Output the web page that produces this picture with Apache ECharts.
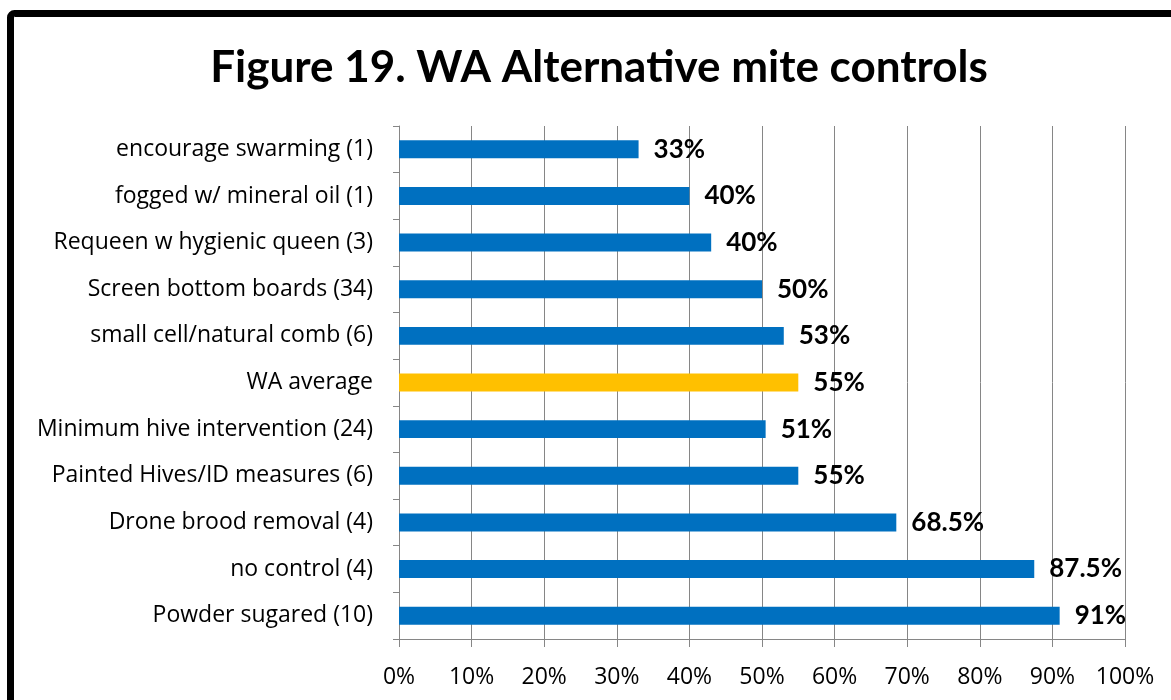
<!DOCTYPE html>
<html>
<head>
<meta charset="utf-8">
<script src="https://cdn.jsdelivr.net/npm/echarts@6/dist/echarts.min.js"></script>
<style>
html,body{margin:0;padding:0;background:#fff;}
#chart{width:1171px;height:700px;}
</style>
</head>
<body>
<div id="chart"></div>
<script>
var titleText = 'Figure 19. WA Alternative mite controls';
var categories = [
  'encourage swarming (1)',
  'fogged w/ mineral oil (1)',
  'Requeen w hygienic queen (3)',
  'Screen bottom boards (34)',
  'small cell/natural comb (6)',
  'WA average',
  'Minimum hive intervention (24)',
  'Painted Hives/ID measures (6)',
  'Drone brood removal (4)',
  'no control (4)',
  'Powder sugared (10)'
];
var values = [33, 40, 43, 50, 53, 55, 50.5, 55, 68.5, 87.5, 91];
var valueLabels = ['33%', '40%', '40%', '50%', '53%', '55%', '51%', '55%', '68.5%', '87.5%', '91%'];
var highlightCategory = 'WA average';
var xTicks = [0, 10, 20, 30, 40, 50, 60, 70, 80, 90, 100];

var chart = echarts.init(document.getElementById('chart'), null, {renderer: 'canvas'});
var FONT_T = 'Lato, "Open Sans", sans-serif';
var FONT_A = '"Open Sans", Lato, sans-serif';
chart.setOption({
  animation: false,
  backgroundColor: '#ffffff',
  title: {
    text: titleText,
    left: 594,
    textAlign: 'center',
    top: 41,
    textStyle: {fontFamily: FONT_T, fontWeight: 'bold', fontSize: 44, color: '#000'}
  },
  graphic: [{
    type: 'rect',
    shape: {x: 10.5, y: 13.5, width: 1250, height: 800, r: 4},
    style: {fill: 'none', stroke: '#000', lineWidth: 7},
    silent: true,
    z: 100
  }],
  grid: {left: 399, right: 46, top: 126, bottom: 61, containLabel: false},
  xAxis: {
    type: 'value',
    min: xTicks[0],
    max: xTicks[xTicks.length - 1],
    interval: 10,
    axisLine: {show: true, lineStyle: {color: '#868686', width: 1}},
    axisTick: {show: true, length: 8, lineStyle: {color: '#868686'}},
    splitLine: {show: true, lineStyle: {color: '#868686', width: 1}},
    axisLabel: {formatter: '{value}%', fontFamily: FONT_A, fontSize: 23, color: '#000', margin: 27}
  },
  yAxis: {
    type: 'category',
    data: categories,
    inverse: true,
    axisLine: {show: true, lineStyle: {color: '#868686', width: 1}},
    axisTick: {show: true, length: 6, lineStyle: {color: '#868686'}},
    axisLabel: {fontFamily: FONT_A, fontSize: 23, color: '#000', margin: 26}
  },
  series: [{
    type: 'bar',
    barWidth: '38.5%',
    data: values.map(function (v, i) {
      return {
        value: v,
        itemStyle: {color: categories[i] === highlightCategory ? '#FFC000' : '#0070C0'}
      };
    }),
    label: {
      show: true,
      position: 'right',
      distance: 15,
      formatter: function (p) { return valueLabels[p.dataIndex]; },
      fontFamily: FONT_T,
      fontWeight: 'bold',
      fontSize: 26,
      color: '#000'
    }
  }]
});
</script>
</body>
</html>
